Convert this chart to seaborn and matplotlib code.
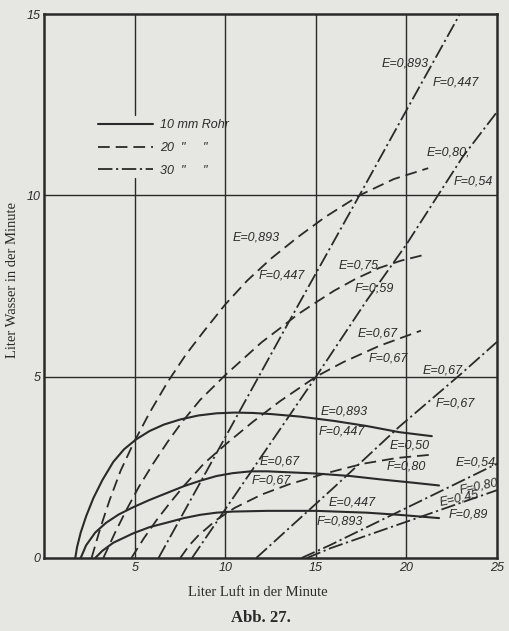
import numpy as np
import pandas as pd
import seaborn as sns
import matplotlib.pyplot as plt
from matplotlib.lines import Line2D

# --- 10 mm Rohr (solid) ---
x_10_893 = [1.7, 1.8, 2.0, 2.3, 2.7, 3.2, 3.8, 4.4, 5.06, 5.8, 6.6, 7.5, 8.5, 9.5, 10.5, 11.5, 12.5, 14.1, 16.0, 17.8, 19.6, 21.4]
y_10_893 = [0.0, 0.3, 0.7, 1.15, 1.65, 2.15, 2.65, 3.0, 3.27, 3.5, 3.68, 3.82, 3.93, 3.99, 4.01, 4.0, 3.97, 3.9, 3.78, 3.64, 3.47, 3.36]
x_10_67 = [2.0, 2.3, 2.8, 3.4, 4.1, 4.9, 5.8, 6.8, 7.7, 8.6, 9.5, 10.4, 11.4, 12.3, 13.2, 15.0, 16.9, 18.7, 20.3, 21.8]
y_10_67 = [0.0, 0.35, 0.7, 0.97, 1.2, 1.4, 1.6, 1.8, 1.98, 2.13, 2.26, 2.34, 2.39, 2.39, 2.37, 2.33, 2.26, 2.16, 2.08, 2.0]
x_10_447 = [2.8, 3.2, 3.8, 4.9, 5.8, 6.8, 7.7, 8.6, 9.5, 10.4, 12.3, 15.0, 17.8, 19.6, 21.8]
y_10_447 = [0.0, 0.2, 0.42, 0.68, 0.85, 0.98, 1.1, 1.19, 1.25, 1.28, 1.3, 1.3, 1.25, 1.19, 1.1]

# --- 20 mm Rohr (dashed) ---
x_20_893 = [2.6, 3.1, 3.6, 4.2, 4.9, 5.8, 6.8, 7.8, 8.8, 10.0, 11.2, 12.5, 14.0, 15.5, 17.4, 19.3, 21.2]
y_20_893 = [0.0, 0.85, 1.6, 2.4, 3.15, 4.0, 4.85, 5.6, 6.25, 7.0, 7.65, 8.25, 8.85, 9.4, 10.0, 10.45, 10.75]
x_20_75 = [3.25, 3.9, 4.5, 5.2, 6.0, 6.8, 7.6, 8.6, 10.0, 11.0, 12.0, 13.0, 14.0, 15.0, 16.0, 17.2, 18.5, 19.7, 20.9]
y_20_75 = [0.0, 0.7, 1.3, 1.95, 2.6, 3.2, 3.75, 4.36, 5.05, 5.5, 5.95, 6.33, 6.72, 7.05, 7.37, 7.7, 8.0, 8.2, 8.35]
x_20_67 = [4.8, 5.5, 6.2, 6.9, 7.67, 8.8, 10.07, 11.5, 13.0, 15.0, 16.5, 18.5, 20.8]
y_20_67 = [0.0, 0.55, 1.05, 1.5, 1.97, 2.6, 3.16, 3.75, 4.32, 5.0, 5.4, 5.85, 6.27]
x_20_50 = [7.5, 8.0, 8.5, 9.5, 10.5, 12.0, 13.5, 15.5, 17.6, 19.5, 21.4]
y_20_50 = [0.0, 0.35, 0.62, 1.05, 1.38, 1.75, 2.03, 2.33, 2.6, 2.76, 2.85]

# --- 30 mm Rohr (dash-dot) ---
x_30_893 = [6.3, 9.8, 13.6, 17.4, 20.0, 22.95]
y_30_893 = [0.0, 3.16, 6.6, 10.0, 12.35, 15.0]
x_30_80 = [8.15, 15.0, 17.8, 20.0, 23.1, 25.0]
y_30_80 = [0.0, 5.0, 7.1, 8.65, 11.06, 12.3]
x_30_67 = [11.7, 16.0, 19.6, 22.95, 25.0]
y_30_67 = [0.0, 1.95, 3.62, 5.05, 5.96]
x_30_54 = [14.2, 15.8, 25.0]
y_30_54 = [0.0, 0.36, 2.6]
x_30_45 = [14.5, 15.8, 25.0]
y_30_45 = [0.0, 0.27, 1.87]

x_ticks = [0, 5, 10, 15, 20, 25]
y_ticks = [0, 5, 10, 15]
legend_labels = ['10 mm Rohr', '20  "     "', '30  "     "']

PAPER = '#e6e6e2'
INK = '#2a2a2a'
SOLID = '-'
DASH = (0, (6.5, 3.3))
DASHDOT = (0, (8, 2, 1.2, 2))

sns.set_style("white")
plt.rcParams['font.family'] = ['Liberation Sans', 'DejaVu Sans']

fig = plt.figure(figsize=(5.09, 6.31), dpi=100, facecolor=PAPER)
ax = fig.add_axes([0.0874, 0.1157, 0.889, 0.862])
ax.set_facecolor(PAPER)

# grid (x=5 line is broken behind the legend)
for gx in [10, 15, 20]:
    ax.axvline(gx, color=INK, lw=1.0, zorder=1)
ax.axvline(5, ymin=0, ymax=0.699, color=INK, lw=1.0, zorder=1)
ax.axvline(5, ymin=0.814, ymax=1, color=INK, lw=1.0, zorder=1)
for gy in [5, 10]:
    ax.axhline(gy, color=INK, lw=1.0, zorder=1)

curves = [
    (x_10_893, y_10_893, SOLID), (x_10_67, y_10_67, SOLID), (x_10_447, y_10_447, SOLID),
    (x_20_893, y_20_893, DASH), (x_20_75, y_20_75, DASH), (x_20_67, y_20_67, DASH), (x_20_50, y_20_50, DASH),
    (x_30_893, y_30_893, DASHDOT), (x_30_80, y_30_80, DASHDOT), (x_30_67, y_30_67, DASHDOT),
    (x_30_54, y_30_54, DASHDOT), (x_30_45, y_30_45, DASHDOT),
]
for xs, ys, ls in curves:
    df = pd.DataFrame({'x': xs, 'y': ys})
    sns.lineplot(data=df, x='x', y='y', ax=ax, sort=False, estimator=None,
                 color=INK, lw=1.5 if ls == SOLID else 1.3, linestyle=ls, zorder=3)

ax.set_xlim(0, 25)
ax.set_ylim(0, 15)
ax.set_xticks(x_ticks)
ax.set_yticks(y_ticks)
ax.set_xticklabels(['' if t == 0 else str(t) for t in x_ticks], style='italic', fontsize=9, color=INK)
ax.set_yticklabels([str(t) for t in y_ticks], style='italic', fontsize=9, color=INK)
ax.tick_params(length=0, pad=3)
ax.set_xlabel('')
ax.set_ylabel('')
for s in ax.spines.values():
    s.set_linewidth(1.8)
    s.set_color(INK)

# curve labels
lab = dict(style='italic', fontsize=9, color=INK, ha='center', va='center', zorder=4)
ax.text(19.9, 13.65, 'E=0,893', **lab)
ax.text(22.7, 13.1, 'F=0,447', **lab)
ax.text(22.3, 11.17, 'E=0,80,', **lab)
ax.text(23.7, 10.37, 'F=0,54', **lab)
ax.text(11.7, 8.85, 'E=0,893', **lab)
ax.text(13.1, 7.8, 'F=0,447', **lab)
ax.text(17.35, 8.08, 'E=0,75', **lab)
ax.text(18.2, 7.44, 'F=0,59', **lab)
ax.text(18.4, 6.2, 'E=0,67', **lab)
ax.text(19.0, 5.49, 'F=0,67', **lab)
ax.text(22.0, 5.18, 'E=0,67', **lab)
ax.text(22.7, 4.27, 'F=0,67', **lab)
ax.text(16.55, 4.03, 'E=0,893', **lab)
ax.text(16.45, 3.5, 'F=0,447', **lab)
ax.text(20.2, 3.09, 'E=0,50', **lab)
ax.text(20.0, 2.51, 'F=0,80', **lab)
ax.text(13.0, 2.67, 'E=0,67', **lab)
ax.text(12.55, 2.15, 'F=0,67', **lab)
ax.text(17.0, 1.52, 'E=0,447', **lab)
ax.text(16.3, 1.02, 'F=0,893', **lab)
ax.text(23.8, 2.62, 'E=0,54', **lab)
ax.text(24.0, 1.96, 'F=0,80', rotation=12, **lab)
ax.text(22.9, 1.65, 'E=0,45', rotation=12, **lab)
ax.text(23.4, 1.19, 'F=0,89', **lab)

handles = [Line2D([], [], color=INK, lw=1.5, linestyle=SOLID),
           Line2D([], [], color=INK, lw=1.3, linestyle=DASH),
           Line2D([], [], color=INK, lw=1.3, linestyle=DASHDOT)]
leg = ax.legend(handles, legend_labels, loc='upper left', bbox_to_anchor=(0.118, 0.807),
                frameon=False, handlelength=4.4, handletextpad=0.55, labelspacing=0.87,
                borderpad=0, borderaxespad=0,
                prop={'family': 'Liberation Sans', 'style': 'italic', 'size': 9})
for t in leg.get_texts():
    t.set_color(INK)

fig.text(258 / 509, 1 - 592 / 631, 'Liter Luft in der Minute', family='Liberation Serif',
         fontsize=10.5, color=INK, ha='center', va='center')
fig.text(261 / 509, 1 - 618 / 631, 'Abb. 27.', family='Liberation Serif', weight='bold',
         fontsize=12, color=INK, ha='center', va='center')
fig.text(13 / 509, 1 - 280 / 631, 'Liter Wasser in der Minute', family='Liberation Serif',
         fontsize=10.5, color=INK, ha='center', va='center', rotation=90)

fig.savefig('out.png', dpi=100, facecolor=PAPER)
